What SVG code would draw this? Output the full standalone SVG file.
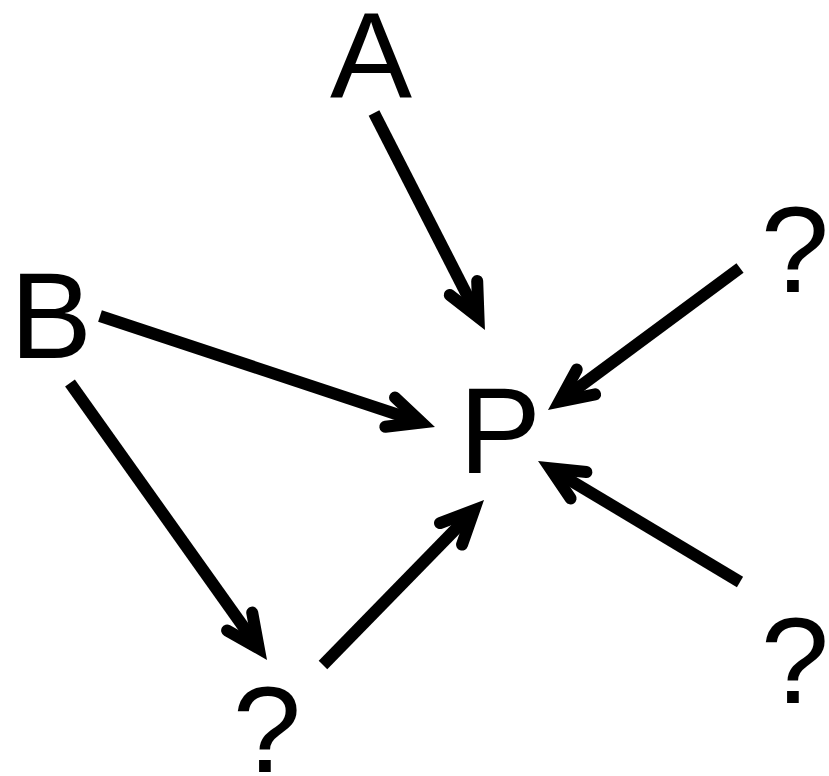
<svg xmlns="http://www.w3.org/2000/svg" width="829" height="776" viewBox="0 0 829 776">
  <style>
    .lbl { font-family: "Liberation Sans", Arial, sans-serif; font-size: 123px; fill: #000; text-anchor: middle; }
    .edge { stroke: #000; stroke-width: 12; fill: none; stroke-linecap: butt; }
  </style>
  <defs>
    <marker id="ah" markerUnits="userSpaceOnUse" orient="auto" refX="0" refY="0" markerWidth="1" markerHeight="1" overflow="visible">
      <path d="M -33 -15.4 L 0 0 L -33 15.4" fill="none" stroke="#000" stroke-width="12" stroke-linecap="round" stroke-linejoin="miter" stroke-miterlimit="10"/>
    </marker>
  </defs>
  <rect width="829" height="776" fill="#fff"/>
  <g id="nodeA"><text class="lbl" x="371" y="98">A</text></g>
  <g id="nodeB"><text class="lbl" x="51" y="358">B</text></g>
  <g id="nodeP"><text class="lbl" x="500" y="473">P</text></g>
  <g id="nodeQ1"><text class="lbl" x="795" y="292">?</text></g>
  <g id="nodeQ2"><text class="lbl" x="795" y="703">?</text></g>
  <g id="nodeQ3"><text class="lbl" x="267" y="772">?</text></g>
  <g id="connectors">
    <line class="edge" x1="374" y1="113" x2="478.5" y2="317.4" marker-end="url(#ah)"/>
    <line class="edge" x1="100" y1="316" x2="421.5" y2="422.5" marker-end="url(#ah)"/>
    <line class="edge" x1="740" y1="268" x2="559.4" y2="401.6" marker-end="url(#ah)"/>
    <line class="edge" x1="740" y1="582" x2="550.2" y2="468.3" marker-end="url(#ah)"/>
    <line class="edge" x1="70" y1="383" x2="258.8" y2="648.4" marker-end="url(#ah)"/>
    <line class="edge" x1="323" y1="665" x2="474.1" y2="510.2" marker-end="url(#ah)"/>
  </g>
</svg>
